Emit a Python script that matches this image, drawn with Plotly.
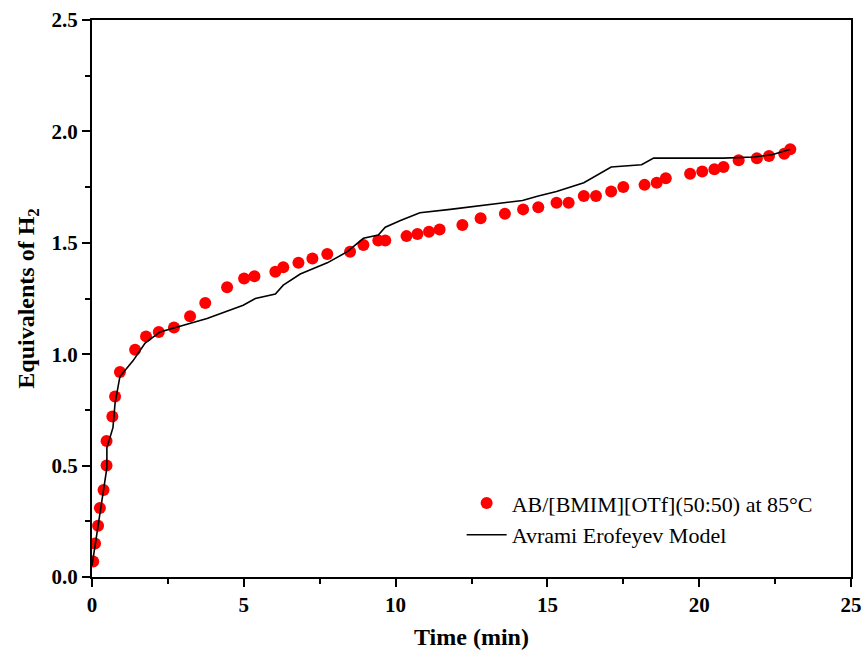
import plotly.graph_objects as go

# Measured hydrogen release (equivalents of H2 vs. time in minutes)
time_exp = [0.04, 0.10, 0.20, 0.26, 0.38, 0.48, 0.48, 0.67, 0.76, 0.92,
            1.42, 1.78, 2.20, 2.70, 3.23, 3.73, 4.45, 5.01, 5.35, 6.04,
            6.30, 6.80, 7.26, 7.75, 8.50, 8.94, 9.43, 9.66, 10.36, 10.72,
            11.10, 11.45, 12.20, 12.80, 13.60, 14.20, 14.70, 15.30, 15.70, 16.20,
            16.60, 17.10, 17.50, 18.20, 18.60, 18.90, 19.70, 20.10, 20.50, 20.80,
            21.30, 21.90, 22.30, 22.80, 23.00]
h2_exp = [0.07, 0.15, 0.23, 0.31, 0.39, 0.50, 0.61, 0.72, 0.81, 0.92,
          1.02, 1.08, 1.10, 1.12, 1.17, 1.23, 1.30, 1.34, 1.35, 1.37,
          1.39, 1.41, 1.43, 1.45, 1.46, 1.49, 1.51, 1.51, 1.53, 1.54,
          1.55, 1.56, 1.58, 1.61, 1.63, 1.65, 1.66, 1.68, 1.68, 1.71,
          1.71, 1.73, 1.75, 1.76, 1.77, 1.79, 1.81, 1.82, 1.83, 1.84,
          1.87, 1.88, 1.89, 1.90, 1.92]

# Avrami-Erofeyev model curve
time_fit = [0.0, 0.49, 0.49, 0.69, 0.76, 0.92, 1.35, 1.75, 2.24, 3.23,
            3.56, 3.79, 4.98, 5.38, 6.04, 6.30, 6.86, 7.75, 8.41, 8.94,
            9.43, 9.66, 10.16, 10.80, 11.80, 14.18, 14.70, 15.30, 16.20, 17.10,
            18.10, 18.50, 20.50, 20.80, 21.80, 22.40, 23.00]
h2_fit = [0.05, 0.49, 0.58, 0.67, 0.78, 0.90, 0.97, 1.05, 1.10, 1.14,
          1.15, 1.16, 1.22, 1.25, 1.27, 1.31, 1.36, 1.41, 1.46, 1.52,
          1.535, 1.57, 1.60, 1.635, 1.65, 1.69, 1.71, 1.73, 1.77, 1.84,
          1.85, 1.88, 1.88, 1.88, 1.885, 1.895, 1.92]

FONT = "Liberation Serif"

fig = go.Figure()
fig.add_trace(go.Scatter(
    x=time_exp, y=h2_exp, mode="markers",
    name="AB/[BMIM][OTf](50:50) at 85°C",
    marker=dict(color="#ff0000", size=12, line=dict(width=0)),
))
fig.add_trace(go.Scatter(
    x=time_fit, y=h2_fit, mode="lines",
    name="Avrami Erofeyev Model",
    line=dict(color="black", width=1.6),
))

axis_common = dict(
    showline=True, linecolor="black", linewidth=2, mirror=True,
    ticks="outside", ticklen=8, tickwidth=1.5, tickcolor="black",
    showgrid=False, zeroline=False, automargin=False,
    tickfont=dict(family=FONT, size=21, color="black", weight="bold"),
)

fig.update_xaxes(
    range=[0, 25], tickvals=[0, 5, 10, 15, 20, 25],
    minor=dict(ticks="outside", ticklen=5, tickwidth=1.5, tickcolor="black", dtick=2.5),
    title=dict(text="<b>Time (min)</b>", font=dict(family=FONT, size=24, color="black"),
               standoff=12),
    **axis_common,
)
fig.update_yaxes(
    range=[0, 2.5], tickvals=[0, 0.5, 1.0, 1.5, 2.0, 2.5], tickformat=".1f",
    minor=dict(ticks="outside", ticklen=5, tickwidth=1.5, tickcolor="black", dtick=0.25),
    title=dict(text="<b>Equivalents of H<sub>2</sub></b>",
               font=dict(family=FONT, size=24, color="black"), standoff=10),
    **axis_common,
)

fig.update_layout(
    width=864, height=655,
    margin=dict(l=92, r=13, t=20, b=78),
    plot_bgcolor="white", paper_bgcolor="white",
    legend=dict(
        x=0.487, y=0.17, xanchor="left", yanchor="top",
        bgcolor="rgba(0,0,0,0)",
        font=dict(family=FONT, size=22, color="black"),
        tracegroupgap=0, itemwidth=40,
    ),
)

fig.write_html("out.html")
